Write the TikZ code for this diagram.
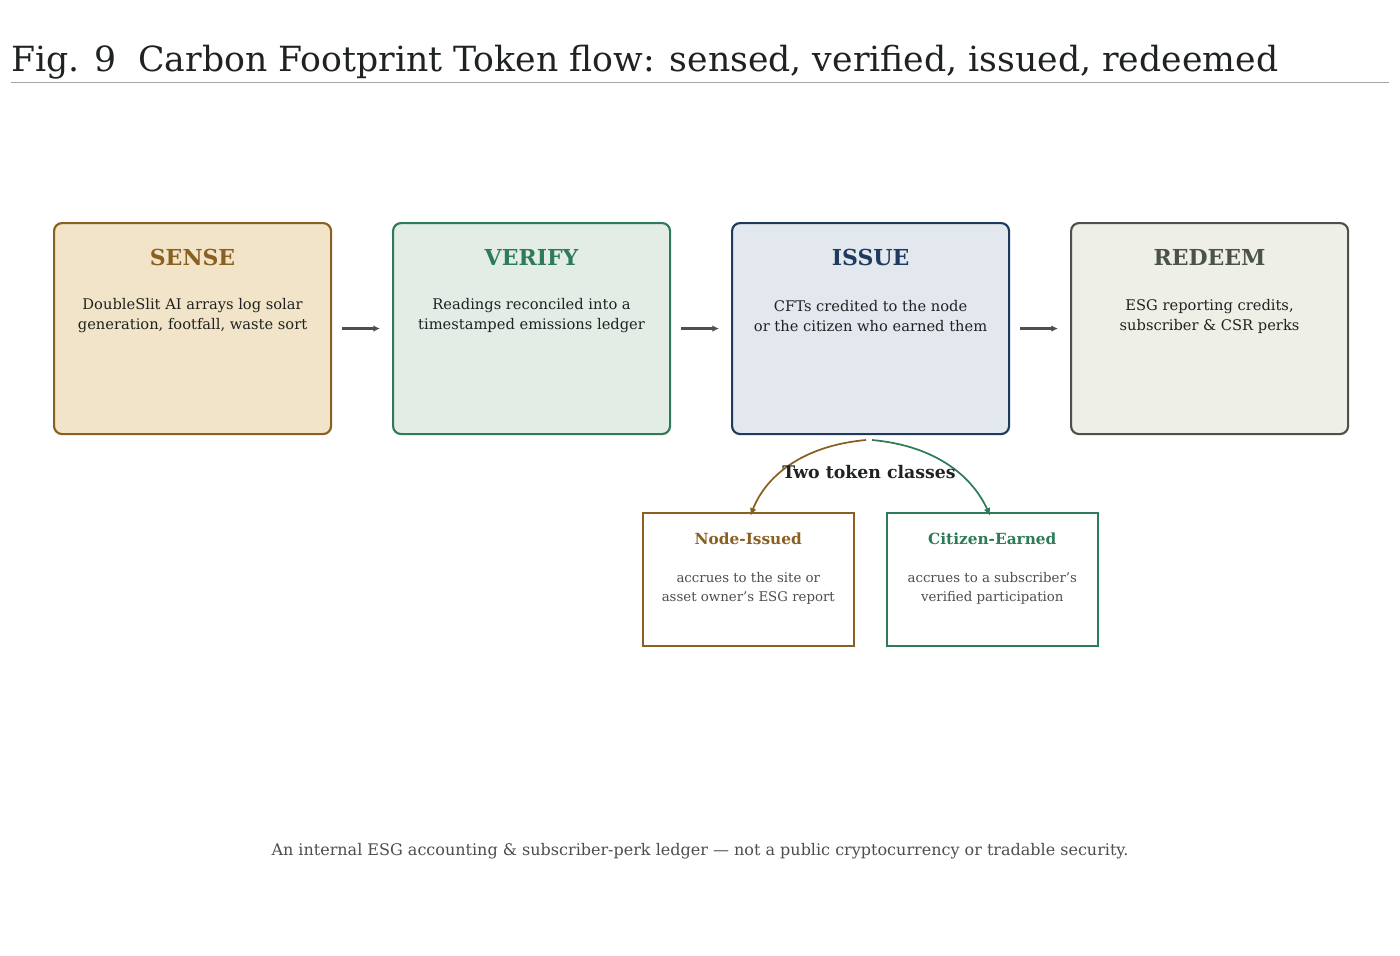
\documentclass[tikz,border=0pt]{standalone}
\usepackage{fontspec}
\setmainfont{DejaVu Serif}
\usetikzlibrary{arrows.meta}
\definecolor{br}{HTML}{8A5F22}\definecolor{brf}{HTML}{F2E4C8}
\definecolor{gr}{HTML}{2E7B58}\definecolor{grf}{HTML}{E3EDE6}
\definecolor{nv}{HTML}{1F3A5F}\definecolor{nvf}{HTML}{E3E8EF}
\definecolor{gy}{HTML}{4A5249}\definecolor{gyf}{HTML}{EEEFE7}
\definecolor{tx}{HTML}{1E2220}\definecolor{sub}{HTML}{4A4E4C}
\begin{document}
\begin{tikzpicture}[x=0.75pt,y=-0.75pt,
 stage/.style={draw=#1,line width=1.6pt,rounded corners=6pt,minimum width=277*0.75pt,minimum height=211*0.75pt,anchor=north west},
 head/.style={font=\fontsize{16.5}{18}\selectfont\bfseries},
 body/.style={font=\fontsize{11}{15}\selectfont,text=tx,align=center},
 small/.style={draw=#1,line width=1.2pt,minimum width=211*0.75pt,minimum height=133*0.75pt,anchor=north west},
 flow/.style={-{Latex[length=5pt,width=5pt]},line width=2pt,draw=gy}]
\useasboundingbox (0,0) rectangle (1400,956);
\node[anchor=base west,font=\fontsize{26}{30}\selectfont,text=tx,inner sep=0] (title) at (11,72) {Fig. 9\ \ Carbon Footprint Token flow: sensed, verified, issued, redeemed};
\draw[color=gy!50,line width=0.6pt] (11,82) coordinate (l1) -- (1389,82) coordinate (l2);
\node[stage=br,fill=brf] (s) at (53,222) {};
\node[stage=gr,fill=grf] (v) at (392,222) {};
\node[stage=nv,fill=nvf] (i) at (731,222) {};
\node[stage=gy,fill=gyf] (r) at (1070,222) {};
\foreach \n/\c/\t/\b in {s/br/SENSE/{DoubleSlit AI arrays log solar\\generation, footfall, waste sort},
 v/gr/VERIFY/{Readings reconciled into a\\timestamped emissions ledger},
 i/nv/ISSUE/{CFTs credited to the node\\or the citizen who earned them},
 r/gy/REDEEM/{ESG reporting credits,\\subscriber \& CSR perks}}{
 \node[head,text=\c] (\n h) at ([yshift=-35*0.75pt]\n.north) {\t};
 \node[body] (\n b) at ([yshift=-94*0.75pt]\n.north) {\b};}
\draw[flow] ([xshift=10*0.75pt]s.east) -- ([xshift=-12*0.75pt]v.west);
\draw[flow] ([xshift=10*0.75pt]v.east) -- ([xshift=-12*0.75pt]i.west);
\draw[flow] ([xshift=10*0.75pt]i.east) -- ([xshift=-12*0.75pt]r.west);
\node[small=br] (n) at (642,512) {};
\node[small=gr] (c) at (886,512) {};
\node[font=\fontsize{11.5}{14}\selectfont\bfseries,text=br] at ([yshift=-27*0.75pt]n.north) {Node-Issued};
\node[font=\fontsize{11.5}{14}\selectfont\bfseries,text=gr] at ([yshift=-27*0.75pt]c.north) {Citizen-Earned};
\node[font=\fontsize{10}{14.5}\selectfont,text=sub,align=center] at ([yshift=-76*0.75pt]n.north) {accrues to the site or\\asset owner's ESG report};
\node[font=\fontsize{10}{14.5}\selectfont,text=sub,align=center] at ([yshift=-76*0.75pt]c.north) {accrues to a subscriber's\\verified participation};
\coordinate (o1) at (866,440); \coordinate (o2) at (872,440);
\draw[-{Latex[length=6pt,width=5pt]},br,line width=1.3pt] (o1) .. controls (800,446) and (765,478) .. ([xshift=2*0.75pt,yshift=-4*0.75pt]n.north);
\draw[-{Latex[length=6pt,width=5pt]},gr,line width=1.3pt] (o2) .. controls (938,446) and (973,478) .. ([xshift=-2*0.75pt,yshift=-4*0.75pt]c.north);
\node[font=\fontsize{13}{15}\selectfont\bfseries,text=tx] (tc) at (869,472) {Two token classes};
\node[font=\fontsize{12}{14}\selectfont,text=sub] (f) at (700,851) {An internal ESG accounting \& subscriber-perk ledger — not a public cryptocurrency or tradable security.};
\end{tikzpicture}
\end{document}
